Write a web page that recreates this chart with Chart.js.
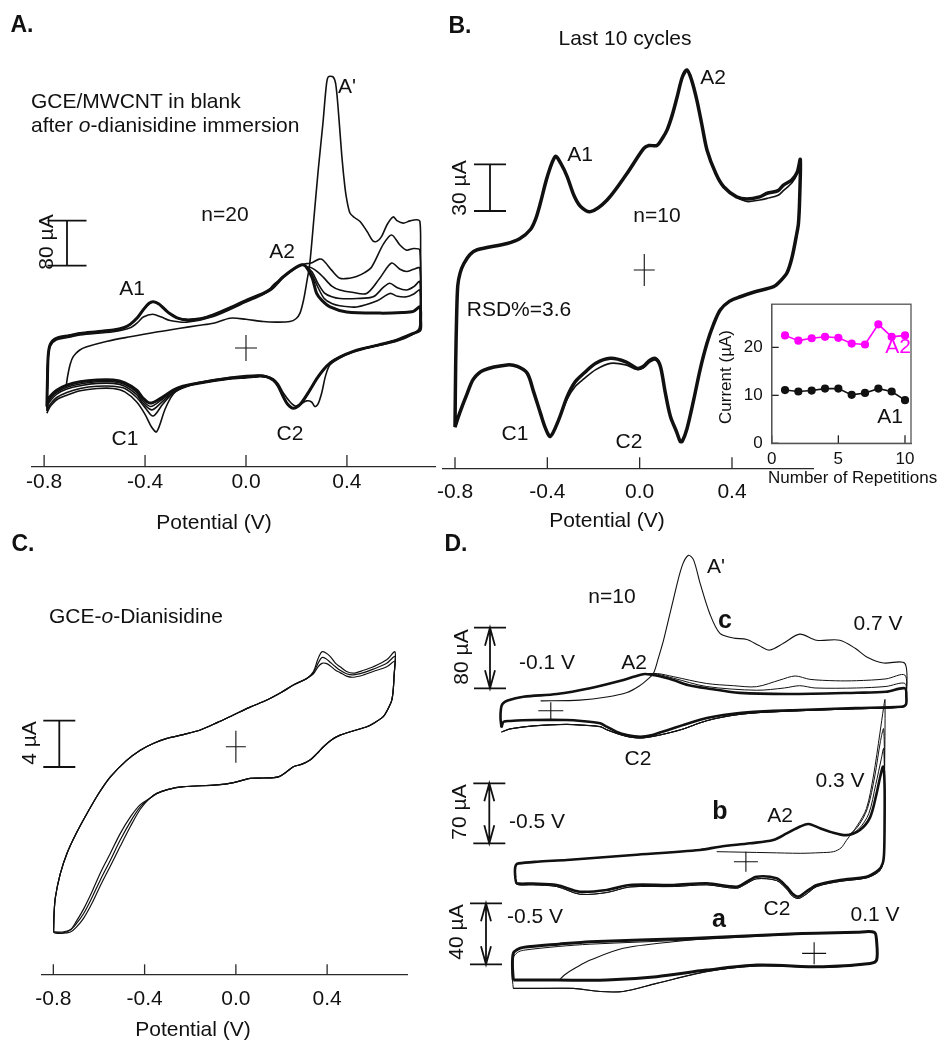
<!DOCTYPE html>
<html lang="en">
<head>
<meta charset="UTF-8" />
<title>Cyclic voltammograms A-D</title>
<style>
  body { margin: 0; background: #fff; }
  #page { position: relative; width: 946px; height: 1045px; overflow: hidden;
          font-family: "Liberation Sans", Arial, sans-serif; color: #111; }
  canvas { position: absolute; }
  .t { position: absolute; white-space: nowrap; font-size: 21px; line-height: 1;
       transform: translate(-50%, -50%); }
  .l { transform: translate(0, -50%); }
  .r { transform: translate(-50%, -50%) rotate(-90deg); }
  .p { font-weight: bold; font-size: 23px; }
  .b { font-weight: bold; font-size: 25px; }
  .s { font-size: 17px; }
  .m { color: #ff00ff; }
</style>
<script src="https://cdn.jsdelivr.net/npm/chart.js"></script>
</head>
<body>
<div id="page">
  <canvas id="panelA" width="440" height="540" style="left:0;top:0"></canvas>
  <canvas id="panelB" width="526" height="540" style="left:420px;top:0"></canvas>
  <canvas id="panelC" width="440" height="505" style="left:0;top:540px"></canvas>
  <canvas id="panelD" width="506" height="525" style="left:440px;top:520px"></canvas>
  <canvas id="inset" width="226" height="190" style="left:720px;top:285px"></canvas>

  <!-- A -->
  <div class="t p" style="left:22px;top:24px">A.</div>
  <div class="t l" style="left:31px;top:100px">GCE/MWCNT in blank</div>
  <div class="t l" style="left:31px;top:124px">after <i>o</i>-dianisidine immersion</div>
  <div class="t l" style="left:338px;top:85px">A'</div>
  <div class="t" style="left:225px;top:213px">n=20</div>
  <div class="t r" style="left:45px;top:242px">80 µA</div>
  <div class="t" style="left:282px;top:250px">A2</div>
  <div class="t" style="left:132px;top:287px">A1</div>
  <div class="t" style="left:125px;top:437px">C1</div>
  <div class="t" style="left:290px;top:432px">C2</div>
  <div class="t" style="left:214px;top:521px">Potential (V)</div>

  <!-- B -->
  <div class="t p" style="left:460px;top:25px">B.</div>
  <div class="t" style="left:625px;top:37px">Last 10 cycles</div>
  <div class="t" style="left:713px;top:76px">A2</div>
  <div class="t" style="left:580px;top:153px">A1</div>
  <div class="t r" style="left:458px;top:188px">30 µA</div>
  <div class="t" style="left:657px;top:214px">n=10</div>
  <div class="t" style="left:519px;top:308px">RSD%=3.6</div>
  <div class="t" style="left:515px;top:432px">C1</div>
  <div class="t" style="left:629px;top:440px">C2</div>
  <div class="t" style="left:607px;top:519px">Potential (V)</div>
  <div class="t r s" style="left:725px;top:377px">Current (µA)</div>
  <div class="t l s" style="left:768px;top:477px">Number of Repetitions</div>

  <!-- C -->
  <div class="t p" style="left:23px;top:543px">C.</div>
  <div class="t l" style="left:49px;top:615px">GCE-<i>o</i>-Dianisidine</div>
  <div class="t r" style="left:28px;top:743px">4 µA</div>
  <div class="t" style="left:193px;top:1028px">Potential (V)</div>

  <!-- D -->
  <div class="t p" style="left:456px;top:543px">D.</div>
  <div class="t l" style="left:707px;top:565px">A'</div>
  <div class="t" style="left:612px;top:595px">n=10</div>
  <div class="t b" style="left:725px;top:619px">c</div>
  <div class="t" style="left:878px;top:622px">0.7 V</div>
  <div class="t r" style="left:460px;top:657px">80 µA</div>
  <div class="t" style="left:547px;top:661px">-0.1 V</div>
  <div class="t" style="left:634px;top:661px">A2</div>
  <div class="t" style="left:638px;top:757px">C2</div>
  <div class="t" style="left:840px;top:779px">0.3 V</div>
  <div class="t r" style="left:458px;top:812px">70 µA</div>
  <div class="t" style="left:537px;top:820px">-0.5 V</div>
  <div class="t b" style="left:720px;top:810px">b</div>
  <div class="t" style="left:780px;top:814px">A2</div>
  <div class="t" style="left:777px;top:907px">C2</div>
  <div class="t r" style="left:455px;top:932px">40 µA</div>
  <div class="t" style="left:535px;top:915px">-0.5 V</div>
  <div class="t b" style="left:719px;top:918px">a</div>
  <div class="t" style="left:875px;top:913px">0.1 V</div>

  <!-- inset labels drawn over its frame -->
  <div class="t m" style="left:898px;top:345px">A2</div>
  <div class="t" style="left:890px;top:415px">A1</div>
</div>

<script>
Chart.defaults.font.family = '"Liberation Sans", Arial, sans-serif';
Chart.defaults.color = '#111';

// tick values
const potentialTicks = [-0.8, -0.4, 0.0, 0.4];
const repetitionTicks = [0, 5, 10];
const currentTicks = [0, 10, 20];

// ---- A: GCE/MWCNT in blank, 20 cycles  [potential V, current uA] ----
const aFwdLeft = [[-0.789,-104],[-0.787,-60],[-0.784,-15],[-0.776,6],[-0.752,17],[-0.70,22],[-0.657,26],[-0.59,29],[-0.526,32],[-0.485,36],[-0.459,42],[-0.43,54],[-0.407,68],[-0.385,79],[-0.367,82],[-0.345,78],[-0.32,68],[-0.301,61],[-0.27,53],[-0.235,50],[-0.18,52],[-0.129,59],[-0.06,72],[0.003,85],[0.068,97],[0.095,104],[0.108,110],[0.13,119],[0.148,127],[0.19,141],[0.221,148],[0.237,145]];
const aFwdLeft2 = [[-0.789,-112],[-0.787,-62],[-0.784,-18],[-0.776,3],[-0.752,14],[-0.70,19],[-0.657,23],[-0.526,29],[-0.459,36],[-0.43,45],[-0.407,55],[-0.37,60],[-0.335,55],[-0.301,49],[-0.235,46],[-0.129,56],[0.003,82],[0.068,95],[0.108,106],[0.148,125],[0.19,140],[0.221,148],[0.24,150]];
const aRight2 = [[0.258,151],[0.29,158],[0.306,156],[0.34,138],[0.372,124],[0.41,124],[0.438,127],[0.47,134],[0.498,144],[0.545,185],[0.577,201],[0.61,183],[0.636,174],[0.665,177],[0.689,174]];
const aRight3 = [[0.262,142],[0.285,135],[0.306,126],[0.34,110],[0.372,103],[0.42,99],[0.478,97],[0.53,124],[0.577,151],[0.61,140],[0.636,136],[0.665,140],[0.689,142]];
const aRight4 = [[0.262,135],[0.285,115],[0.31,98],[0.34,91],[0.372,88],[0.44,88],[0.504,91],[0.545,108],[0.570,115],[0.60,107],[0.636,103],[0.665,109],[0.689,118]];
const aRight5 = [[0.262,130],[0.285,108],[0.31,88],[0.34,79],[0.372,75],[0.438,73],[0.52,84],[0.570,97],[0.60,92],[0.636,91],[0.665,96],[0.689,103]];
const aRightN = [[0.262,125],[0.280,97],[0.30,85],[0.333,73],[0.399,64],[0.531,62],[0.62,63],[0.663,65],[0.689,73]];
const aRevRight = [[0.692,50],[0.690,32],[0.663,26],[0.597,14],[0.53,6],[0.465,-1],[0.42,-7],[0.372,-16],[0.335,-26],[0.306,-39],[0.28,-55],[0.253,-75],[0.215,-100],[0.187,-107],[0.165,-100],[0.148,-87],[0.128,-68],[0.108,-57],[0.08,-51],[0.055,-50],[0.0,-52],[-0.063,-54],[-0.195,-63]];
const aRevLeftN = [[-0.25,-68],[-0.288,-75],[-0.34,-90],[-0.380,-98],[-0.41,-88],[-0.433,-75],[-0.48,-62],[-0.526,-57],[-0.59,-57],[-0.657,-60],[-0.71,-66],[-0.750,-75],[-0.772,-84],[-0.783,-92],[-0.789,-104]];
const aRevLeft2 = [[-0.25,-71],[-0.288,-80],[-0.33,-100],[-0.368,-121],[-0.40,-106],[-0.433,-88],[-0.48,-72],[-0.526,-68],[-0.59,-68],[-0.657,-72],[-0.71,-79],[-0.750,-88],[-0.772,-98],[-0.783,-106],[-0.789,-112]];
const aRevLeft3 = [[-0.25,-70],[-0.288,-78],[-0.34,-99],[-0.374,-110],[-0.41,-97],[-0.433,-83],[-0.48,-68],[-0.526,-63],[-0.59,-63],[-0.657,-67],[-0.71,-73],[-0.750,-82],[-0.772,-92],[-0.783,-99],[-0.789,-108]];
const aRevLeft4 = [[-0.25,-69],[-0.288,-76],[-0.34,-94],[-0.378,-104],[-0.41,-93],[-0.433,-79],[-0.48,-65],[-0.526,-60],[-0.59,-60],[-0.657,-64],[-0.71,-70],[-0.750,-79],[-0.772,-88],[-0.783,-96],[-0.789,-106]];
const aFwd1 = [[-0.712,-66],[-0.706,-48],[-0.696,-28],[-0.684,-15],[-0.66,-4],[-0.631,2],[-0.55,12],[-0.459,20],[-0.36,28],[-0.261,35],[-0.19,40],[-0.129,44],[-0.063,53],[0.0,51],[0.068,47],[0.12,46],[0.174,47],[0.198,52],[0.214,62],[0.228,85],[0.240,115],[0.253,151],[0.27,235],[0.287,320],[0.305,400],[0.318,465],[0.326,482],[0.345,482],[0.356,468],[0.368,410],[0.38,340],[0.392,286],[0.40,262],[0.412,240],[0.43,232],[0.452,225],[0.48,207],[0.504,190],[0.52,190],[0.537,198],[0.56,220],[0.583,233],[0.60,226],[0.623,222],[0.65,226],[0.676,228],[0.689,225]];
const aRev1 = [[0.692,180],[0.691,80],[0.687,36],[0.66,24],[0.597,12],[0.50,2],[0.42,-8],[0.372,-18],[0.333,-30],[0.315,-50],[0.300,-80],[0.285,-100],[0.273,-104],[0.26,-96],[0.24,-94],[0.215,-100],[0.195,-103],[0.175,-96],[0.148,-80],[0.128,-64],[0.108,-55],[0.055,-48],[-0.063,-52],[-0.195,-62],[-0.25,-70],[-0.288,-82],[-0.32,-108],[-0.354,-149],[-0.375,-140],[-0.40,-118],[-0.433,-96],[-0.48,-78],[-0.526,-72],[-0.59,-72],[-0.657,-76],[-0.71,-84],[-0.750,-92],[-0.772,-102],[-0.783,-110],[-0.789,-116]];

// ---- B: last 10 cycles ----
const bFwdHead = [[-0.80,-101],[-0.797,-60],[-0.793,-30],[-0.788,-10],[-0.778,-2],[-0.762,4],[-0.735,10],[-0.704,13],[-0.574,17],[-0.52,20],[-0.473,26],[-0.45,33],[-0.430,43],[-0.40,60],[-0.365,73],[-0.34,68],[-0.314,60],[-0.285,48],[-0.257,41],[-0.213,37.5],[-0.141,45],[-0.055,62],[0.017,78],[0.04,80],[0.075,80],[0.10,85],[0.119,90],[0.142,100],[0.162,111],[0.185,124],[0.205,128.5],[0.225,122],[0.248,109],[0.270,93],[0.292,77],[0.33,62],[0.364,53.5],[0.42,47]];
const bFwdTail = [[0.465,45.6],[0.52,47],[0.552,49.3],[0.60,51],[0.623,54.6],[0.66,58],[0.683,63],[0.696,71]];
const bFwdTail2 = [[0.465,44],[0.52,45],[0.552,46],[0.60,48],[0.623,51],[0.66,56],[0.683,62],[0.696,70]];
const bRevHead = [[0.693,45],[0.688,30],[0.681,23.6],[0.66,8],[0.638,-2],[0.61,-7],[0.580,-10.7],[0.50,-14],[0.436,-17.2],[0.39,-20],[0.349,-25.7],[0.32,-35],[0.292,-47],[0.262,-64],[0.234,-83.5],[0.205,-102],[0.185,-110],[0.176,-110.3],[0.16,-104],[0.133,-94],[0.11,-78]];
const bRevMid = [[0.090,-62],[0.070,-57],[0.046,-57.8],[0.015,-62],[-0.011,-63.2],[-0.06,-59],[-0.127,-56.8],[-0.19,-60],[-0.242,-66.4],[-0.28,-72],[-0.314,-81.4]];
const bRevMid2 = [[0.090,-62],[0.070,-58],[0.046,-59],[0.015,-63],[-0.011,-64],[-0.06,-61],[-0.127,-60],[-0.19,-64],[-0.242,-70],[-0.28,-75],[-0.314,-83]];
const bRevTail = [[-0.35,-96],[-0.387,-107],[-0.41,-101],[-0.430,-92],[-0.46,-78],[-0.487,-66.4],[-0.53,-62],[-0.574,-61],[-0.675,-64.3],[-0.72,-70],[-0.747,-79.3],[-0.78,-92],[-0.80,-101]];

// B inset: peak currents vs repetition
const repetitions = [1, 2, 3, 4, 5, 6, 7, 8, 9, 10];
const a2Peak = [22.5, 21.4, 21.9, 22.2, 22.0, 20.8, 20.6, 24.8, 22.2, 22.5];
const a1Peak = [11.1, 10.8, 11.0, 11.4, 11.4, 10.1, 10.5, 11.4, 10.8, 9.0];

// ---- C: GCE-o-dianisidine ----
const cFwdHead = [[-0.799,-16],[-0.797,-14.5],[-0.791,-13],[-0.77,-11],[-0.740,-9.2],[-0.70,-7.5],[-0.652,-5.75],[-0.60,-4],[-0.550,-2.6],[-0.48,-1.2],[-0.419,-0.3],[-0.36,0.3],[-0.302,0.72],[-0.23,1.05],[-0.156,1.44],[-0.08,2.1],[-0.011,2.74],[0.06,3.4],[0.136,4.03],[0.20,4.7],[0.252,5.33],[0.311,5.9]];
const cPeak1 = [[0.340,6.5],[0.36,7.6],[0.377,8.2],[0.395,8.1],[0.413,7.8],[0.437,7.2],[0.457,6.9],[0.485,6.5],[0.515,6.35],[0.56,6.6],[0.602,6.9],[0.661,7.5],[0.697,8.2]];
const cPeak2 = [[0.340,6.4],[0.36,7.2],[0.377,7.7],[0.395,7.6],[0.413,7.3],[0.437,6.9],[0.457,6.6],[0.485,6.3],[0.515,6.2],[0.56,6.4],[0.602,6.7],[0.661,7.2],[0.697,7.8]];
const cPeak3 = [[0.340,6.3],[0.36,6.9],[0.377,7.2],[0.395,7.2],[0.413,7.0],[0.437,6.6],[0.457,6.4],[0.485,6.1],[0.515,6.0],[0.56,6.2],[0.602,6.5],[0.661,6.9],[0.697,7.4]];
const cRevHead = [[0.696,6.8],[0.694,6.3],[0.690,5],[0.683,4.0],[0.665,3.2],[0.646,2.6],[0.61,2.1],[0.574,1.73],[0.52,1.4],[0.457,1.0],[0.42,0.6],[0.384,0],[0.355,-0.6],[0.325,-1.15],[0.29,-1.5],[0.252,-1.73],[0.22,-2.2],[0.187,-2.6],[0.12,-2.7],[0.063,-2.73],[-0.01,-3.1],[-0.083,-3.3],[-0.229,-3.45],[-0.30,-3.7],[-0.346,-4.03],[-0.38,-4.5]];
const cRevTail1 = [[-0.419,-5.2],[-0.46,-6.4],[-0.507,-8.06],[-0.55,-9.8],[-0.594,-11.5],[-0.63,-13],[-0.667,-14.4],[-0.70,-15.3],[-0.725,-15.8],[-0.76,-16],[-0.791,-16],[-0.799,-16]];
const cRevTail2 = [[-0.419,-5.0],[-0.46,-6.0],[-0.507,-7.5],[-0.55,-9.2],[-0.594,-10.9],[-0.63,-12.5],[-0.667,-14.0],[-0.70,-15.1],[-0.725,-15.8],[-0.76,-16.1],[-0.791,-16.1],[-0.799,-16]];
const cRevTail3 = [[-0.419,-5.4],[-0.46,-6.8],[-0.507,-8.6],[-0.55,-10.3],[-0.594,-12],[-0.63,-13.5],[-0.667,-14.8],[-0.70,-15.6],[-0.725,-16],[-0.76,-16.1],[-0.791,-16],[-0.799,-16]];

// ---- D: c = -0.1..0.7 V, b = -0.5..0.3 V, a = -0.5..0.1 V ----
const dcFwdHead = [[-0.097,-22],[-0.099,-10],[-0.098,3],[-0.095,9],[-0.085,13.5],[-0.054,18.5],[0.012,22],[0.077,29.6],[0.143,40.5],[0.165,45],[0.185,48.5]];
const dcTailN = [[0.21,46],[0.241,40.5],[0.27,34],[0.306,29.6],[0.372,23.5],[0.471,22],[0.602,23.7],[0.66,25],[0.697,29.6]];
const dcTail2 = [[0.21,49],[0.241,45],[0.306,36],[0.36,33],[0.405,31.7],[0.451,40.5],[0.481,45.8],[0.510,41.4],[0.56,39.5],[0.602,39.6],[0.66,42],[0.697,47]];
const dcTail3 = [[0.21,48],[0.241,43],[0.306,32],[0.405,27],[0.46,30],[0.49,33],[0.52,30],[0.602,30],[0.66,32],[0.697,36]];
const dcFwd1 = [[-0.02,13],[0.057,14],[0.11,18],[0.150,24],[0.175,33],[0.19,41],[0.202,49],[0.212,70],[0.222,93],[0.241,146],[0.258,190],[0.271,205],[0.281,199],[0.294,168],[0.313,128],[0.333,102],[0.359,96],[0.386,94],[0.41,86],[0.431,80],[0.458,89],[0.49,101],[0.523,93],[0.569,93],[0.60,82],[0.622,71],[0.655,63],[0.697,62.5]];
const dcRev = [[0.700,18],[0.699,8],[0.69,5.3],[0.60,3.5],[0.49,1],[0.438,0],[0.40,-1.5],[0.359,-4],[0.32,-8],[0.294,-12],[0.26,-19],[0.228,-26],[0.20,-32],[0.176,-34.3],[0.15,-32],[0.130,-28],[0.110,-21],[0.097,-16.6],[0.06,-13.5],[0.031,-12.3],[-0.034,-12.3],[-0.08,-13.5],[-0.093,-14.5],[-0.097,-22]];
const dcRevLow = [[0.700,18],[0.699,8],[0.69,4.5],[0.60,2.5],[0.49,0],[0.438,-1.5],[0.40,-3],[0.359,-6],[0.32,-11],[0.294,-16],[0.261,-24],[0.228,-30],[0.20,-34],[0.176,-36],[0.15,-34],[0.130,-30],[0.110,-25],[0.097,-21],[0.06,-19],[0.031,-18],[-0.034,-20],[-0.08,-24],[-0.093,-27],[-0.097,-28]];

const dbFwdHead = [[-0.497,-20],[-0.498,-10],[-0.496,-4],[-0.49,-2],[-0.45,0],[-0.386,2],[-0.243,7.8],[-0.099,13.7],[-0.056,17.5],[0.009,21.5],[0.059,25.3],[0.088,33],[0.117,41],[0.135,44],[0.160,39],[0.181,35],[0.217,31]];
const dbTailN = [[0.246,37],[0.268,52],[0.282,80],[0.29,100],[0.296,111]];
const dbTail2 = [[0.240,40],[0.262,62],[0.278,100],[0.290,140],[0.297,155]];
const dbTail3 = [[0.243,38],[0.265,56],[0.280,90],[0.292,120],[0.297,132]];
const dbFwd1 = [[-0.063,11.7],[0.05,10.5],[0.117,9.8],[0.16,10.5],[0.189,11.7],[0.205,16],[0.217,25],[0.24,42],[0.260,62],[0.275,100],[0.289,150],[0.297,180],[0.300,189]];
const dbRev = [[0.299,90],[0.299,40],[0.298,10],[0.295,-2],[0.286,-9.7],[0.260,-17.5],[0.203,-21.4],[0.153,-27.2],[0.13,-35],[0.113,-40.8],[0.10,-37],[0.088,-29.2],[0.066,-19.4],[0.023,-17.5],[0.0,-24],[-0.020,-29.2],[-0.0845,-25.2],[-0.156,-27.2],[-0.250,-27.2],[-0.300,-33],[-0.358,-35],[-0.408,-27.2],[-0.46,-25.5],[-0.494,-25.2],[-0.497,-20]];
const dbRevLow = [[0.299,90],[0.299,40],[0.298,8],[0.294,-5],[0.286,-12],[0.260,-19],[0.203,-23],[0.153,-29],[0.13,-38],[0.113,-43],[0.10,-40],[0.088,-32],[0.066,-22],[0.023,-20],[0.0,-26],[-0.020,-31],[-0.0845,-27],[-0.156,-29],[-0.250,-29.5],[-0.300,-36],[-0.358,-38],[-0.408,-29],[-0.46,-27],[-0.494,-26.5],[-0.497,-20]];

const daFwdN = [[-0.4946,-17.5],[-0.496,-8],[-0.4946,0],[-0.488,2.5],[-0.478,3.9],[-0.42,6],[-0.368,7.6],[-0.204,9.8],[-0.040,12.7],[0.070,13.8],[0.099,13.8]];
const daFwd2 = [[-0.4946,-23],[-0.497,-12],[-0.495,-3],[-0.488,0.5],[-0.478,2],[-0.42,4.5],[-0.368,6],[-0.204,8.8],[-0.040,12.2],[0.070,13.6],[0.099,13.6]];
const daFwd1 = [[-0.418,-17],[-0.41,-14],[-0.39,-9],[-0.368,-4.4],[-0.314,3.3],[-0.232,7.6],[-0.15,10.5],[-0.040,12.7],[0.070,13.8],[0.099,13.8]];
const daRevN = [[0.1027,8],[0.1027,-4.4],[0.092,-6.6],[0.015,-8.8],[-0.094,-7.7],[-0.177,-11],[-0.259,-15.3],[-0.341,-17.5],[-0.423,-17.5],[-0.4946,-17.5]];
const daRevLow = [[0.1027,8],[0.1027,-4.4],[0.092,-6.8],[0.015,-9.2],[-0.094,-8.2],[-0.177,-12],[-0.259,-19.7],[-0.314,-25],[-0.352,-25],[-0.396,-23],[-0.45,-23],[-0.4946,-23]];

// helpers
const path = (...parts) => [].concat(...parts).map(([x, y]) => ({ x, y }));
function cv(data, w, ax) {
  const d = { data, showLine: true, borderColor: '#111', borderWidth: w,
              pointRadius: 0, tension: 0.3, fill: false };
  if (ax) { d.xAxisID = 'x' + ax; d.yAxisID = 'y' + ax; }
  return d;
}

// inner ticks, scale bars, origin crosses, inset frame
const marks = {
  id: 'marks',
  beforeDraw(chart, args, o) {
    if (!o.fill) return;
    const a = chart.chartArea, ctx = chart.ctx;
    ctx.save(); ctx.fillStyle = o.fill;
    ctx.fillRect(a.left, a.top, a.width, a.height);
    ctx.restore();
  },
  afterDraw(chart, args, o) {
    const ctx = chart.ctx, a = chart.chartArea;
    ctx.save();
    (o.ticks || []).forEach(t => {
      const s = chart.scales[t.axis];
      ctx.strokeStyle = t.color; ctx.lineWidth = 1.3;
      s.ticks.forEach(tk => {
        const p = s.getPixelForValue(tk.value);
        ctx.beginPath();
        if (s.isHorizontal()) { ctx.moveTo(p, a.bottom); ctx.lineTo(p, a.bottom - t.len); }
        else { ctx.moveTo(a.left, p); ctx.lineTo(a.left + t.len, p); }
        ctx.stroke();
      });
    });
    ctx.strokeStyle = '#111';
    (o.crosses || []).forEach(c => {
      const x = chart.scales[c.ax ? 'x' + c.ax : 'x'].getPixelForValue(c.at[0]);
      const y = chart.scales[c.ax ? 'y' + c.ax : 'y'].getPixelForValue(c.at[1]);
      ctx.lineWidth = 1.1;
      ctx.beginPath();
      ctx.moveTo(x - c.w, y); ctx.lineTo(x + c.w, y);
      ctx.moveTo(x, y - c.h); ctx.lineTo(x, y + c.h);
      ctx.stroke();
    });
    (o.bars || []).forEach(b => {
      const ys = chart.scales[b.ax ? 'y' + b.ax : 'y'];
      const len = ys.getPixelForValue(0) - ys.getPixelForValue(b.value);
      const y0 = b.bottom, y1 = b.bottom - len;
      ctx.lineWidth = 1.8;
      ctx.beginPath();
      ctx.moveTo(b.x, y0); ctx.lineTo(b.x, y1);
      ctx.moveTo(b.x - b.cap, y0); ctx.lineTo(b.x + b.cap, y0);
      ctx.moveTo(b.x - b.cap, y1); ctx.lineTo(b.x + b.cap, y1);
      if (b.arrow) {
        ctx.moveTo(b.x - 5, y1 + 18); ctx.lineTo(b.x, y1); ctx.lineTo(b.x + 5, y1 + 18);
        ctx.moveTo(b.x - 5, y0 - 18); ctx.lineTo(b.x, y0); ctx.lineTo(b.x + 5, y0 - 18);
      }
      ctx.stroke();
    });
    if (o.frame) {
      ctx.strokeStyle = o.frame; ctx.lineWidth = 1.3;
      ctx.strokeRect(a.left, a.top, a.width, a.height);
    }
    ctx.restore();
  }
};

function cvPanel(id, datasets, xr, yr, o) {
  return new Chart(document.getElementById(id), {
    type: 'scatter',
    data: { datasets },
    plugins: [marks],
    options: {
      responsive: false, animation: false, events: [],
      layout: { padding: o.pad },
      plugins: { legend: { display: false }, tooltip: { enabled: false }, marks: o.marks },
      scales: {
        x: {
          min: xr[0], max: xr[1],
          grid: { display: false, drawTicks: false },
          border: { display: true, color: '#2a2a2a', width: 1.3 },
          afterBuildTicks: s => { s.ticks = potentialTicks.map(v => ({ value: v })); },
          afterFit: s => { s.height = o.axisH; },
          ticks: { padding: o.tickPad, font: { size: 21 }, color: '#111', maxRotation: 0,
                   autoSkip: false, callback: v => v.toFixed(1) }
        },
        y: { display: false, min: yr[0], max: yr[1] }
      }
    }
  });
}

// A
cvPanel('panelA', [
  cv(path(aFwd1, aRev1), 1.6),
  cv(path(aFwdLeft2, aRight2, aRevRight, aRevLeft2), 1.6),
  cv(path(aFwdLeft, aRight3, aRevRight, aRevLeft3), 1.6),
  cv(path(aFwdLeft, aRight4, aRevRight, aRevLeft4), 1.6),
  cv(path(aFwdLeft, aRight5, aRevRight, aRevLeftN), 1.6),
  cv(path(aFwdLeft, aRightN, aRevRight, aRevLeftN), 3)
], [-0.848, 0.749], [-211.6, 618.7], {
  pad: { left: 32, right: 5, top: 0, bottom: 0 }, axisH: 73, tickPad: 2.5,
  marks: {
    ticks: [{ axis: 'x', len: 12, color: '#2a2a2a' }],
    crosses: [{ at: [0, 0], w: 11, h: 13 }],
    bars: [{ x: 67, bottom: 265.7, value: 80, cap: 19.5 }]
  }
});

// B (canvas starts 20px left of the panel so the first tick label has room)
cvPanel('panelB', [
  cv(path(bFwdHead, bFwdTail2, bRevHead, bRevMid2, bRevTail), 1.6),
  cv(path(bFwdHead, bFwdTail, bRevHead, bRevMid, bRevTail), 3.5)
], [-0.852, 0.751], [-127.9, 173.5], {
  pad: { left: 23, right: 133, top: 0, bottom: 0 }, axisH: 71, tickPad: 10.4,
  marks: {
    ticks: [{ axis: 'x', len: 11.7, color: '#2a2a2a' }],
    crosses: [{ at: [0.02, 0], w: 10.5, h: 16 }],
    bars: [{ x: 70, bottom: 211, value: 30, cap: 16 }]
  }
});

// B inset
new Chart(document.getElementById('inset'), {
  type: 'scatter',
  data: { datasets: [
    { data: repetitions.map((r, i) => ({ x: r, y: a2Peak[i] })), showLine: true,
      borderColor: '#ff00ff', backgroundColor: '#ff00ff', borderWidth: 1.6, pointRadius: 3.3, tension: 0 },
    { data: repetitions.map((r, i) => ({ x: r, y: a1Peak[i] })), showLine: true,
      borderColor: '#111', backgroundColor: '#111', borderWidth: 1.6, pointRadius: 3.3, tension: 0 }
  ] },
  plugins: [marks],
  options: {
    responsive: false, animation: false, events: [],
    layout: { padding: { left: 0, right: 35, top: 8.3, bottom: 0 } },
    plugins: { legend: { display: false }, tooltip: { enabled: false },
      marks: { fill: '#fff', frame: '#555',
               ticks: [{ axis: 'x', len: 8, color: '#222' }, { axis: 'y', len: 7, color: '#222' }] } },
    scales: {
      x: { min: 0, max: 10.45,
           grid: { display: false, drawTicks: false },
           border: { display: true, color: '#555', width: 1.3 },
           afterBuildTicks: s => { s.ticks = repetitionTicks.map(v => ({ value: v })); },
           afterFit: s => { s.height = 31.7; },
           ticks: { padding: 5.8, font: { size: 17 }, color: '#111', maxRotation: 0, autoSkip: false } },
      y: { min: 0, max: 29,
           grid: { display: false, drawTicks: false },
           border: { display: true, color: '#555', width: 1.3 },
           afterBuildTicks: s => { s.ticks = currentTicks.map(v => ({ value: v })); },
           afterFit: s => { s.width = 51.7; },
           ticks: { padding: 9, font: { size: 17 }, color: '#111', autoSkip: false } }
    }
  }
});

// C
cvPanel('panelC', [
  cv(path(cFwdHead, cPeak3, cRevHead, cRevTail3), 1.2),
  cv(path(cFwdHead, cPeak2, cRevHead, cRevTail2), 1.2),
  cv(path(cFwdHead, cPeak1, cRevHead, cRevTail1), 1.2)
], [-0.851, 0.750], [-19.65, 17.85], {
  pad: { left: 41.7, right: 33, top: 0, bottom: 0 }, axisH: 70.7, tickPad: 12,
  marks: {
    ticks: [{ axis: 'x', len: 10, color: '#2a2a2a' }],
    crosses: [{ at: [0, 0], w: 10, h: 16 }],
    bars: [{ x: 59.3, bottom: 227, value: 4, cap: 16 }]
  }
});

// D
new Chart(document.getElementById('panelD'), {
  type: 'scatter',
  data: { datasets: [
    cv(path(dcFwd1, dcRevLow), 1.1, 'c'),
    cv(path(dcFwdHead, dcTail2, dcRevLow), 1, 'c'),
    cv(path(dcFwdHead, dcTail3, dcRev), 1, 'c'),
    cv(path(dcFwdHead, dcTailN, dcRevLow), 1, 'c'),
    cv(path(dcFwdHead, dcTailN, dcRev), 2.6, 'c'),
    cv(path(dbFwd1, dbRevLow), 1, 'b'),
    cv(path(dbFwdHead, dbTail2, dbRev), 1, 'b'),
    cv(path(dbFwdHead, dbTail3, dbRevLow), 1, 'b'),
    cv(path(dbFwdHead, dbTailN, dbRev), 2.6, 'b'),
    cv(path(daFwd1, daRevLow), 1.1, 'a'),
    cv(path(daFwd2, daRevN), 1, 'a'),
    cv(path(daFwdN, daRevLow), 1, 'a'),
    cv(path(daFwdN, daRevN), 3, 'a')
  ] },
  plugins: [marks],
  options: {
    responsive: false, animation: false, events: [],
    layout: { padding: 0 },
    plugins: { legend: { display: false }, tooltip: { enabled: false },
      marks: {
        crosses: [{ ax: 'c', at: [0, 0], w: 12.5, h: 8.5 },
                  { ax: 'b', at: [0, 0], w: 12, h: 10 },
                  { ax: 'a', at: [0, 0], w: 12, h: 11 }],
        bars: [{ ax: 'c', x: 50, bottom: 168.3, value: 80, cap: 16, arrow: true },
               { ax: 'b', x: 49.3, bottom: 323.3, value: 70, cap: 16, arrow: true },
               { ax: 'a', x: 46, bottom: 444.3, value: 40, cap: 16, arrow: true }]
      } },
    scales: {
      x: { display: false }, y: { display: false },
      xc: { type: 'linear', display: false, min: -0.2181, max: 0.778 },
      yc: { type: 'linear', display: false, min: -441, max: 251.6 },
      xb: { type: 'linear', display: false, min: -0.6596, max: 0.4315 },
      yb: { type: 'linear', display: false, min: -213.9, max: 398.7 },
      xa: { type: 'linear', display: false, min: -0.6151, max: 0.2168 },
      ya: { type: 'linear', display: false, min: -60.1, max: 284.1 }
    }
  }
});
</script>
</body>
</html>
